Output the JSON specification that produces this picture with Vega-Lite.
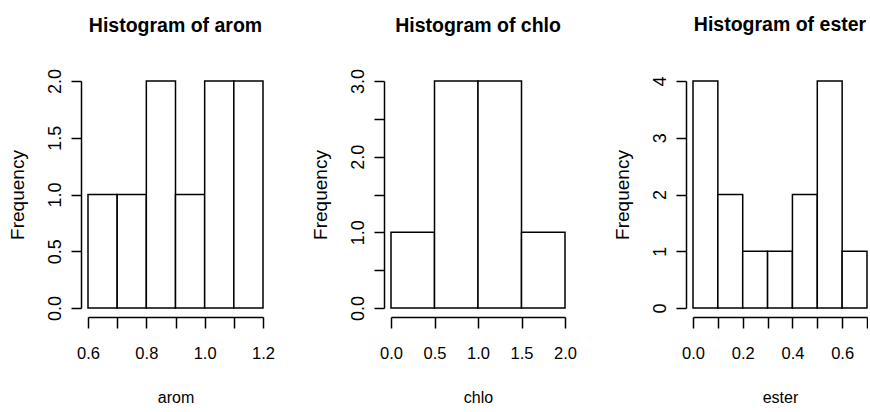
{
  "$schema": "https://vega.github.io/schema/vega-lite/v6.json",
  "background": "white",
  "padding": {"left": 8, "top": 15, "right": 0, "bottom": 0},
  "bounds": "flush",
  "spacing": 128,
  "config": {
    "view": {"stroke": null},
    "font": "Liberation Sans",
    "axis": {
      "grid": false,
      "domainColor": "black",
      "tickColor": "black",
      "labelColor": "black",
      "titleColor": "black",
      "domainWidth": 1.5,
      "tickWidth": 1.5,
      "labelFont": "Liberation Sans",
      "titleFont": "Liberation Sans",
      "titleFontWeight": "normal",
      "labelOverlap": false,
      "labelFlush": false
    },
    "axisX": {
      "offset": 9,
      "tickSize": 11,
      "labelPadding": 30,
      "labelBaseline": "alphabetic",
      "labelFontSize": 16.5,
      "titleFontSize": 16,
      "titleY": 85,
      "titleBaseline": "alphabetic",
      "titleAlign": "center",
      "format": ".1f"
    },
    "axisY": {
      "offset": 7,
      "tickSize": 10,
      "labelPadding": 11,
      "labelAngle": -90,
      "labelAlign": "center",
      "labelBaseline": "alphabetic",
      "labelFontSize": 18,
      "titleFontSize": 19,
      "titleAngle": -90,
      "titleX": -58,
      "titleY": 113.5,
      "titleAlign": "center",
      "titleBaseline": "alphabetic"
    },
    "title": {
      "font": "Liberation Sans",
      "fontSize": 19.5,
      "fontWeight": "bold",
      "color": "black",
      "anchor": "middle",
      "frame": "group",
      "baseline": "alphabetic"
    }
  },
  "datasets": {
    "arom": [
      {"start": 0.6, "end": 0.7, "count": 1},
      {"start": 0.7, "end": 0.8, "count": 1},
      {"start": 0.8, "end": 0.9, "count": 2},
      {"start": 0.9, "end": 1.0, "count": 1},
      {"start": 1.0, "end": 1.1, "count": 2},
      {"start": 1.1, "end": 1.2, "count": 2}
    ],
    "chlo": [
      {"start": 0.0, "end": 0.5, "count": 1},
      {"start": 0.5, "end": 1.0, "count": 3},
      {"start": 1.0, "end": 1.5, "count": 3},
      {"start": 1.5, "end": 2.0, "count": 1}
    ],
    "ester": [
      {"start": 0.0, "end": 0.1, "count": 4},
      {"start": 0.1, "end": 0.2, "count": 2},
      {"start": 0.2, "end": 0.3, "count": 1},
      {"start": 0.3, "end": 0.4, "count": 1},
      {"start": 0.4, "end": 0.5, "count": 2},
      {"start": 0.5, "end": 0.6, "count": 4},
      {"start": 0.6, "end": 0.7, "count": 1}
    ]
  },
  "hconcat": [
    {
      "width": 175,
      "height": 227,
      "title": {"text": "Histogram of arom", "offset": 32},
      "data": {"name": "arom"},
      "mark": {"type": "rect", "fill": "white", "stroke": "black", "strokeWidth": 1.5},
      "encoding": {
        "x": {
          "field": "start",
          "type": "quantitative",
          "scale": {"domain": [0.6, 1.2], "nice": false, "zero": false},
          "axis": {
            "title": "arom",
            "values": [0.6, 0.7, 0.8, 0.9, 1.0, 1.1, 1.2],
            "labelExpr": "round(datum.value * 10) % 2 == 0 ? datum.label : ''",
            "titleX": 87.5
          }
        },
        "x2": {"field": "end"},
        "y": {
          "field": "count",
          "type": "quantitative",
          "scale": {"domain": [0, 2], "nice": false},
          "axis": {"title": "Frequency", "values": [0, 0.5, 1, 1.5, 2], "format": ".1f"}
        },
        "y2": {"datum": 0}
      }
    },
    {
      "width": 174,
      "height": 227,
      "title": {"text": "Histogram of chlo", "offset": 32},
      "data": {"name": "chlo"},
      "mark": {"type": "rect", "fill": "white", "stroke": "black", "strokeWidth": 1.5},
      "encoding": {
        "x": {
          "field": "start",
          "type": "quantitative",
          "scale": {"domain": [0, 2], "nice": false, "zero": false},
          "axis": {
            "title": "chlo",
            "values": [0, 0.5, 1, 1.5, 2],
            "titleX": 87
          }
        },
        "x2": {"field": "end"},
        "y": {
          "field": "count",
          "type": "quantitative",
          "scale": {"domain": [0, 3], "nice": false},
          "axis": {
            "title": "Frequency",
            "values": [0, 0.5, 1, 1.5, 2, 2.5, 3],
            "format": ".1f",
            "labelExpr": "datum.value % 1 == 0 ? datum.label : ''"
          }
        },
        "y2": {"datum": 0}
      }
    },
    {
      "width": 174,
      "height": 227,
      "title": {"text": "Histogram of ester", "offset": 40},
      "data": {"name": "ester"},
      "mark": {"type": "rect", "fill": "white", "stroke": "black", "strokeWidth": 1.5},
      "encoding": {
        "x": {
          "field": "start",
          "type": "quantitative",
          "scale": {"domain": [0, 0.7], "nice": false, "zero": false},
          "axis": {
            "title": "ester",
            "values": [0, 0.1, 0.2, 0.3, 0.4, 0.5, 0.6, 0.7],
            "labelExpr": "round(datum.value * 10) % 2 == 0 ? datum.label : ''",
            "titleX": 87
          }
        },
        "x2": {"field": "end"},
        "y": {
          "field": "count",
          "type": "quantitative",
          "scale": {"domain": [0, 4], "nice": false},
          "axis": {"title": "Frequency", "values": [0, 1, 2, 3, 4], "format": "d"}
        },
        "y2": {"datum": 0}
      }
    }
  ]
}
